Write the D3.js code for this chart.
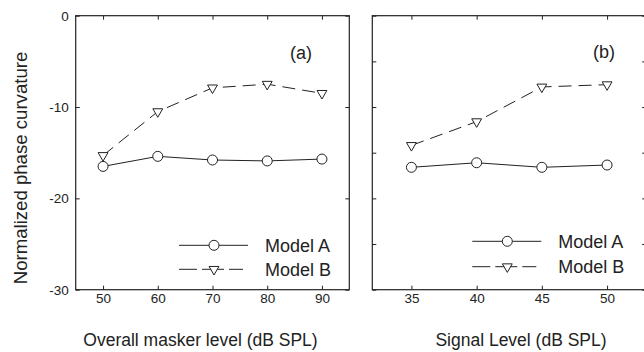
<!DOCTYPE html>
<html>
<head>
<meta charset="utf-8">
<title>Normalized phase curvature</title>
<script src="https://cdnjs.cloudflare.com/ajax/libs/d3/7.8.5/d3.min.js"></script>
<style>
body { margin: 0; background: #fff; }
svg { font-family: "Liberation Sans", Arial, sans-serif; }
.frame { fill: none; stroke: #222; stroke-width: 1.2; }
.tick line { stroke: #222; }
.tick text { fill: #222; font-size: 13.5px; }
.title { fill: #222; font-size: 17.5px; }
.ytitle { fill: #222; font-size: 18.6px; }
.lineA { fill: none; stroke: #222; stroke-width: 1; }
.lineB { fill: none; stroke: #222; stroke-width: 1; stroke-dasharray: 13,7; }
.mark { fill: #fff; stroke: #222; stroke-width: 1; }
.leg { fill: #222; font-size: 18px; }
</style>
</head>
<body>
<svg id="vis" width="644" height="352"></svg>
<script>
// panel (a)
var maskerLevels = [50, 60, 70, 80, 90];
var maskerModelA = [-16.5, -15.4, -15.8, -15.9, -15.7];
var maskerModelB = [-15.3, -10.5, -7.9, -7.5, -8.5];
// panel (b)
var signalLevels = [35, 40, 45, 50];
var signalModelA = [-16.6, -16.1, -16.6, -16.35];
var signalModelB = [-14.2, -11.6, -7.8, -7.55];

var yTicks = [0, -10, -20, -30];
var yTicksB = [0, -5, -10, -15, -20, -25, -30];
var seriesNames = ['Model A', 'Model B'];

var svg = d3.select('#vis');
var top_ = 15.7, bottom = 289.7;

var y = d3.scaleLinear().domain([-30, 0]).range([bottom, top_]);

var xa = d3.scaleLinear().domain([45, 95]).range([75.7, 349.3]);
var xb = d3.scaleLinear().domain([32, 53]).range([372.3, 646.2]);

function panel(x, xs, ya, yb, yt, labelTicks, tag, xTitle, leg) {
  var g = svg.append('g');
  var r = x.range();

  g.append('rect').attr('class', 'frame')
    .attr('x', r[0]).attr('y', top_)
    .attr('width', r[1] - r[0]).attr('height', bottom - top_);

  // ticks, all pointing inward
  g.append('g').attr('transform', `translate(0,${bottom})`)
    .call(d3.axisBottom(x).tickValues(xs).tickSize(-4).tickSizeOuter(0).tickPadding(4))
    .call(a => a.select('.domain').remove());
  g.append('g').attr('transform', `translate(0,${top_})`)
    .call(d3.axisTop(x).tickValues(xs).tickSize(-4).tickSizeOuter(0).tickFormat(''))
    .call(a => a.select('.domain').remove());
  g.append('g').attr('transform', `translate(${r[0]},0)`)
    .call(d3.axisLeft(y).tickValues(yt).tickSize(-4).tickSizeOuter(0).tickPadding(7)
      .tickFormat(labelTicks ? (d => String(d)) : ''))
    .call(a => a.select('.domain').remove());
  g.append('g').attr('transform', `translate(${r[1]},0)`)
    .call(d3.axisRight(y).tickValues(yt).tickSize(-4).tickSizeOuter(0).tickFormat(''))
    .call(a => a.select('.domain').remove());

  var line = d3.line().x(d => x(d[0])).y(d => y(d[1]));
  var da = xs.map((v, i) => [v, ya[i]]);
  var db = xs.map((v, i) => [v, yb[i]]);

  g.append('path').attr('class', 'lineB').attr('d', line(db));
  g.append('path').attr('class', 'lineA').attr('d', line(da));

  g.selectAll('.tri').data(db).enter().append('path')
    .attr('class', 'mark')
    .attr('transform', d => `translate(${x(d[0])},${y(d[1])}) rotate(180)`)
    .attr('d', d3.symbol(d3.symbolTriangle, 42)());
  g.selectAll('.circ').data(da).enter().append('circle')
    .attr('class', 'mark')
    .attr('cx', d => x(d[0])).attr('cy', d => y(d[1])).attr('r', 5);

  g.append('text').attr('class', 'leg')
    .attr('x', tag.x).attr('y', tag.y).text(tag.t);

  g.append('text').attr('class', 'title')
    .attr('x', xTitle.cx).attr('y', 346)
    .attr('text-anchor', 'middle').text(xTitle.t);

  // legend
  seriesNames.forEach(function (name, i) {
    var ly = leg.y + i * leg.gap;
    g.append('line').attr('class', i ? 'lineB' : 'lineA')
      .attr('x1', leg.x).attr('x2', leg.x + (i ? 64 : 69)).attr('y1', ly).attr('y2', ly)
      .style('stroke-dasharray', i ? '18,5,22,5,19' : null);
    if (i) {
      g.append('path').attr('class', 'mark')
        .attr('transform', `translate(${leg.x + 35},${ly}) rotate(180)`)
        .attr('d', d3.symbol(d3.symbolTriangle, 42)());
    } else {
      g.append('circle').attr('class', 'mark')
        .attr('cx', leg.x + 35).attr('cy', ly).attr('r', 5);
    }
    g.append('text').attr('class', 'leg')
      .attr('x', leg.x + 86).attr('y', ly + 6.5).text(name);
  });
}

panel(xa, maskerLevels, maskerModelA, maskerModelB, yTicks, true,
  {x: 290, y: 59, t: '(a)'}, {t: 'Overall masker level (dB SPL)', cx: 200.5},
  {x: 179, y: 245.3, gap: 24});
panel(xb, signalLevels, signalModelA, signalModelB, yTicksB, false,
  {x: 593, y: 58, t: '(b)'}, {t: 'Signal Level (dB SPL)', cx: 521},
  {x: 472.3, y: 241.3, gap: 25.4});

svg.append('text').attr('class', 'ytitle')
  .attr('transform', `translate(27,168) rotate(-90)`)
  .attr('text-anchor', 'middle')
  .text('Normalized phase curvature');
</script>
</body>
</html>
